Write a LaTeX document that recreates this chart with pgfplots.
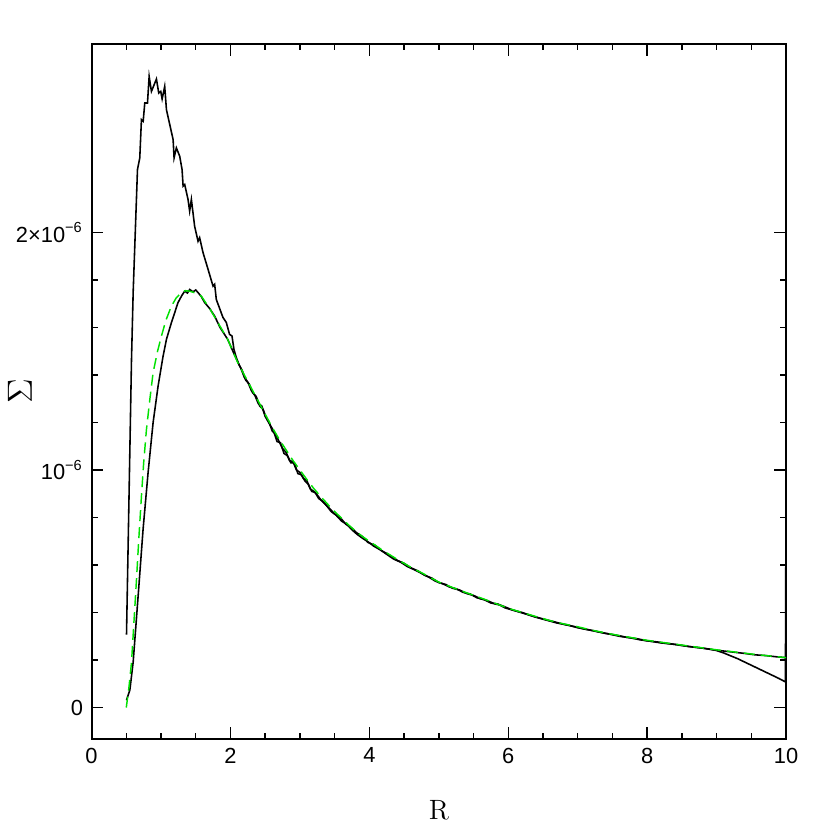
\documentclass[border=0pt]{standalone}
\usepackage{fontspec}
\usepackage{pgfplots}
\pgfplotsset{compat=1.18}
\newfontfamily\tickfont{Liberation Sans}
\definecolor{fitgreen}{RGB}{0,225,0}
\begin{document}
\begin{tikzpicture}
\begin{axis}[
  scale only axis,
  width=286pt, height=286.4pt,
  xmin=0, xmax=10, ymin=-0.134, ymax=2.794,
  xtick={0,2,4,6,8,10},
  xticklabels={0,2,4,6,8,10},
  ytick={0,1,2},
  yticklabels={0,{10\textsuperscript{−6}},{2×10\textsuperscript{−6}}},
  minor x tick num=3, minor y tick num=4,
  tick align=inside,
  major tick length=4.9pt, minor tick length=2.5pt,
  tick style={line width=0.6pt, black},
  axis line style={line width=0.8pt},
  ticklabel style={font=\tickfont\fontsize{9}{10}\selectfont},
  xlabel={R},
  every axis x label/.style={at={(axis description cs:0.5,-0.075)}, anchor=north, font=\fontsize{11.5}{13}\selectfont},
  clip=false,
]
% upper black curve
\addplot[black, line width=0.65pt] coordinates {
(0.503,0.307) (0.575,1.466) (0.599,1.75) (0.661,2.265) (0.694,2.314) (0.718,2.475) (0.743,2.468)
(0.766,2.545) (0.805,2.545) (0.829,2.657) (0.862,2.594) (0.934,2.646) (0.967,2.587) (0.996,2.594)
(1.016,2.562) (1.053,2.615) (1.078,2.517) (1.174,2.391) (1.188,2.314) (1.221,2.356) (1.269,2.321)
(1.303,2.265) (1.318,2.195) (1.341,2.202) (1.389,2.139) (1.412,2.09) (1.437,2.139) (1.484,2.026)
(1.533,1.963) (1.556,1.978) (1.605,1.915) (1.677,1.845) (1.749,1.774) (1.772,1.782) (1.796,1.718)
(1.892,1.642) (1.94,1.621) (1.987,1.571) (2.022,1.564) (2.05,1.508) (2.083,1.474)
(2.12,1.445) (2.17,1.418) (2.22,1.378) (2.27,1.362) (2.32,1.325) (2.37,1.31) (2.42,1.27)
(2.47,1.255) (2.52,1.215) (2.57,1.19) (2.62,1.165) (2.67,1.12) (2.72,1.115) (2.77,1.07)
(2.82,1.06) (2.87,1.03) (2.92,1.03) (2.97,0.985) (3.02,0.98) (3.07,0.955) (3.12,0.94)
(3.17,0.91) (3.22,0.905) (3.27,0.88) (3.32,0.87) (3.37,0.855) (3.45,0.825) (3.52,0.81)
(3.6,0.785) (3.68,0.77) (3.75,0.748) (3.82,0.73) (3.9,0.713) (3.98,0.698) (4.06,0.68)
(4.15,0.665) (4.25,0.645) (4.35,0.625) (4.45,0.612) (4.55,0.593) (4.65,0.58) (4.75,0.565)
(4.85,0.55) (4.95,0.532) (5.05,0.522) (5.15,0.508) (5.25,0.5) (5.35,0.485) (5.45,0.478)
(5.55,0.462) (5.65,0.455) (5.75,0.44) (5.85,0.436) (5.95,0.42) (6.1,0.407) (6.25,0.394)
(6.4,0.38) (6.55,0.368) (6.7,0.356) (6.85,0.348) (7.0,0.336) (7.15,0.328) (7.3,0.318)
(7.45,0.31) (7.6,0.3) (7.75,0.294) (7.9,0.285) (8.05,0.279) (8.2,0.272) (8.35,0.268)
(8.5,0.261) (8.65,0.255) (8.8,0.25) (8.95,0.243) (9.1,0.238) (9.25,0.233) (9.4,0.228)
(9.55,0.222) (9.7,0.219) (9.85,0.214) (10.0,0.21)
};
% lower black curve
\addplot[black, line width=0.65pt] coordinates {
(0.503,0.031) (0.551,0.073) (0.599,0.192) (0.671,0.472) (0.742,0.752) (0.814,0.99) (0.886,1.2)
(0.958,1.354) (1.03,1.48) (1.078,1.55) (1.149,1.62) (1.245,1.705) (1.30,1.735) (1.341,1.753)
(1.38,1.745) (1.413,1.76) (1.46,1.75) (1.50,1.758) (1.533,1.747) (1.58,1.73) (1.628,1.705)
(1.70,1.68) (1.772,1.648) (1.85,1.60) (1.96,1.55) (2.05,1.49) (2.155,1.424)
(2.2,1.39) (2.25,1.37) (2.3,1.335) (2.35,1.315) (2.4,1.28) (2.45,1.27) (2.5,1.225)
(2.55,1.205) (2.6,1.165) (2.65,1.15) (2.7,1.12) (2.75,1.09) (2.8,1.075) (2.85,1.04)
(2.9,1.035) (2.95,1.0) (3.0,0.99) (3.05,0.965) (3.1,0.955) (3.15,0.92) (3.2,0.91)
(3.25,0.895) (3.3,0.875) (3.35,0.86) (3.42,0.84) (3.5,0.815) (3.58,0.8) (3.66,0.772)
(3.74,0.757) (3.82,0.735) (3.9,0.72) (3.98,0.695) (4.08,0.683) (4.18,0.66) (4.3,0.64)
(4.4,0.62) (4.5,0.607) (4.6,0.588) (4.7,0.575) (4.8,0.556) (4.9,0.545) (5.0,0.526)
(5.1,0.518) (5.2,0.502) (5.3,0.495) (5.4,0.48) (5.5,0.472) (5.6,0.458) (5.7,0.45)
(5.8,0.437) (5.9,0.43) (6.05,0.412) (6.2,0.4) (6.35,0.385) (6.5,0.373) (6.65,0.362)
(6.8,0.35) (6.95,0.341) (7.1,0.33) (7.25,0.322) (7.4,0.312) (7.55,0.305) (7.7,0.296)
(7.85,0.29) (8.0,0.281) (8.15,0.276) (8.3,0.269) (8.45,0.264) (8.6,0.257) (8.75,0.252)
(8.9,0.246) (9.0,0.24) (9.1,0.23) (9.2,0.218) (9.3,0.206) (9.4,0.192) (9.5,0.178)
(9.6,0.164) (9.7,0.15) (9.8,0.136) (9.9,0.122) (9.99,0.108) (10.0,1.0)
};
% green dashed fit
\addplot[fitgreen, line width=0.6pt, dash pattern=on 4.5pt off 2.5pt] coordinates {
(0.5,0) (0.54,0.09) (0.575,0.19) (0.61,0.36) (0.647,0.54) (0.68,0.71) (0.718,0.89)
(0.75,1.03) (0.79,1.17) (0.84,1.30) (0.886,1.41) (0.95,1.50) (1.006,1.564) (1.07,1.63)
(1.149,1.69) (1.22,1.725) (1.293,1.747) (1.35,1.755) (1.41,1.753) (1.5,1.745) (1.58,1.732)
(1.7,1.68) (1.82,1.62) (1.96,1.55) (2.1,1.455) (2.2,1.40) (2.3,1.345) (2.4,1.29)
(2.5,1.235) (2.6,1.18) (2.7,1.13) (2.8,1.085) (2.9,1.04) (3.0,1.0) (3.1,0.96)
(3.2,0.922) (3.3,0.888) (3.4,0.856) (3.5,0.825) (3.6,0.797) (3.7,0.769) (3.8,0.743)
(3.9,0.72) (4.0,0.70) (4.2,0.66) (4.4,0.624) (4.6,0.59) (4.8,0.56) (5.0,0.528)
(5.2,0.505) (5.4,0.483) (5.6,0.462) (5.8,0.44) (6.0,0.418) (6.2,0.40) (6.4,0.383)
(6.6,0.366) (6.8,0.352) (7.0,0.34) (7.2,0.326) (7.4,0.314) (7.6,0.303) (7.8,0.293)
(8.0,0.283) (8.2,0.275) (8.4,0.267) (8.6,0.259) (8.8,0.251) (9.0,0.243) (9.2,0.236)
(9.4,0.229) (9.6,0.222) (9.8,0.216) (10.0,0.21)
};
\node[rotate=90, anchor=center, font=\Large] at (rel axis cs:-0.103,0.5) {$\Sigma$};
\path (rel axis cs:-0.1293,-0.1277) rectangle (rel axis cs:1.0632,1.0631);
\end{axis}
\end{tikzpicture}
\end{document}
